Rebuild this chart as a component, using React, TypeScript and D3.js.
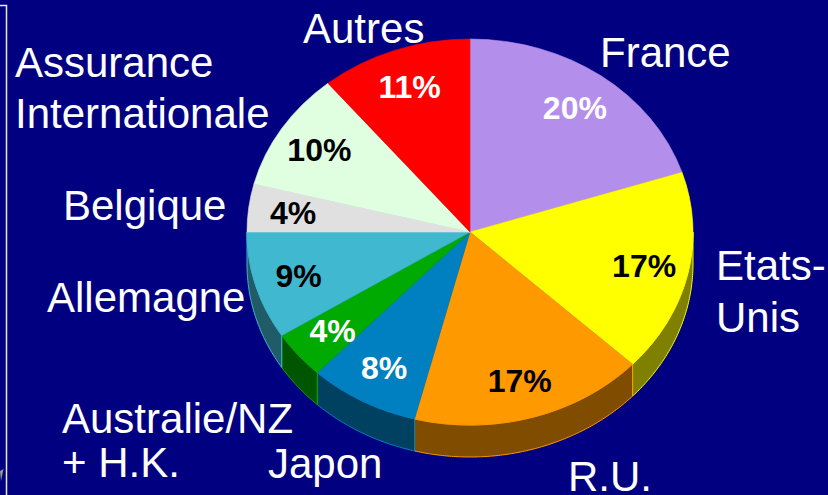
import * as d3 from 'd3'

// categories (split into the lines shown on the slide)
const categories = [
  ['France'],
  ['Etats-', 'Unis'],
  ['R.U.'],
  ['Japon'],
  ['Australie/NZ', '+ H.K.'],
  ['Allemagne'],
  ['Belgique'],
  ['Assurance', 'Internationale'],
  ['Autres'],
]
const shares = [20, 17, 17, 8, 4, 9, 4, 10, 11]
const faceColors = ['#b38eea', '#ffff00', '#ff9900', '#0080c0', '#00aa00', '#40b8d0', '#e0e0e0', '#e0ffe0', '#ff0000']
const sideColors = ['#5a4775', '#808000', '#804c00', '#004060', '#005500', '#205c68', '#707070', '#708070', '#800000']
const pctColors = ['#fff', '#000', '#000', '#fff', '#fff', '#000', '#000', '#000', '#fff']

const W = 828
const H = 495
const cx = 470
const cy = 232
const rx = 223
const ry = 193
const depth = 32
const FONT = '"Liberation Sans", Arial, sans-serif'

// where each outer label sits (left x, first baseline, line step)
const labelPos = [
  { x: 600, y: 67, step: 0 },
  { x: 716, y: 280, step: 52 },
  { x: 568, y: 491, step: 0 },
  { x: 268, y: 478, step: 0 },
  { x: 62, y: 433, step: 44 },
  { x: 47, y: 312, step: 0 },
  { x: 63, y: 220, step: 0 },
  { x: 15, y: 77, step: 51 },
  { x: 303, y: 43, step: 0 },
]

export default function App() {
  const pie = d3.pie<number>().sort(null).value(d => d)
  const arcs = pie(shares)
  const faceArc = d3.arc<d3.PieArcDatum<number>>().innerRadius(0).outerRadius(1)
  const labelArc = d3.arc<d3.PieArcDatum<number>>().innerRadius(0.8).outerRadius(0.8)

  const ex = (t: number) => cx + rx * Math.sin(t)
  const ey = (t: number) => cy - ry * Math.cos(t)
  const line = d3.line()

  // visible rim of a slice: only the front half of the ellipse
  const sidePath = (a: d3.PieArcDatum<number>) => {
    const t0 = Math.max(a.startAngle, Math.PI / 2)
    const t1 = Math.min(a.endAngle, (3 * Math.PI) / 2)
    if (t1 <= t0) return null
    const ts = d3.range(t0, t1, 0.01).concat([t1])
    const top = ts.map(t => [ex(t), ey(t)] as [number, number])
    const bot = ts.slice().reverse().map(t => [ex(t), ey(t) + depth] as [number, number])
    return line([...top, ...bot]) + 'Z'
  }

  return (
    <svg width={W} height={H} style={{ position: 'absolute', left: 0, top: 0, display: 'block' }}>
      <rect width={W} height={H} fill="#000080" />

      {/* frame edge on the left */}
      <path d="M0,5.5H6.5V495" fill="none" stroke="#e8e8f0" strokeWidth={1.5} />
      <polygon points="0,471 3.5,469 1,481" fill="#9a9a9a" />

      {/* rims */}
      {arcs.map((a, i) => {
        const d = sidePath(a)
        return d ? (
          <path key={'s' + i} d={d} fill={sideColors[i]} stroke={faceColors[i]} strokeWidth={1} />
        ) : null
      })}

      {/* top faces */}
      <g transform={`translate(${cx},${cy}) scale(${rx},${ry})`}>
        {arcs.map((a, i) => (
          <path
            key={'f' + i}
            d={faceArc(a) || ''}
            fill={faceColors[i]}
            stroke={faceColors[i]}
            strokeWidth={0.6}
            vectorEffect="non-scaling-stroke"
          />
        ))}
      </g>

      {/* percentages */}
      {arcs.map((a, i) => {
        const [px, py] = labelArc.centroid(a)
        return (
          <text
            key={'p' + i}
            x={cx + px * rx}
            y={cy + py * ry}
            dy="0.36em"
            textAnchor="middle"
            fontFamily={FONT}
            fontWeight="bold"
            fontSize={32}
            fill={pctColors[i]}
          >
            {a.data}%
          </text>
        )
      })}

      {/* category labels */}
      {categories.map((lines, i) => (
        <text key={'c' + i} fontFamily={FONT} fontSize={42} fill="#fff">
          {lines.map((l, j) => (
            <tspan key={j} x={labelPos[i].x} y={labelPos[i].y + j * labelPos[i].step}>
              {l}
            </tspan>
          ))}
        </text>
      ))}
    </svg>
  )
}
